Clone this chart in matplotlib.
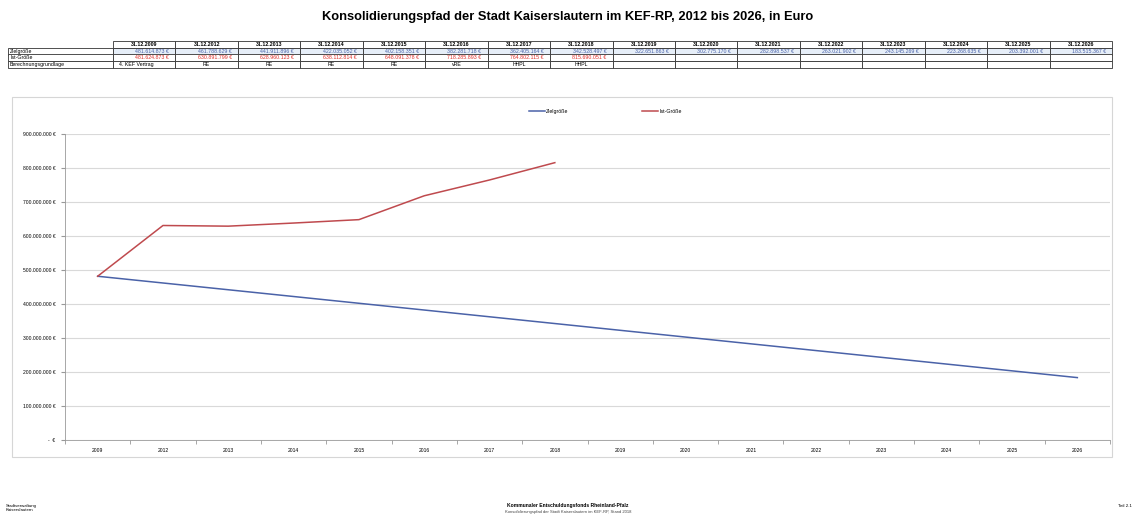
import matplotlib.pyplot as plt
from matplotlib.patches import Rectangle
import numpy as np

plt.rcParams['font.family'] = ['Liberation Sans', 'DejaVu Sans']

#data
years = ["2009", "2012", "2013", "2014", "2015", "2016", "2017", "2018",
         "2019", "2020", "2021", "2022", "2023", "2024", "2025", "2026"]
dates = ["31.12." + y for y in years]

ziel = [481614873, 461788629, 441911896, 422035052, 402158351, 382281718,
        362405164, 342528497, 322651863, 302775170, 282898537, 263021902,
        243145269, 223268635, 203392001, 183515367]
ist = [481624873, 630891799, 628960123, 638112814, 648091378, 718285893,
       764802115, 815690051]
grundlage = ["4. KEF Vertrag", "RE", "RE", "RE", "RE", "vRE", "HHPL", "HHPL"]

row_labels = ["Zielgröße", "Ist-Größe", "Berechnungsgrundlage"]

blue = "#4a62a8"
red = "#bf4a4e"


def euro(v):
    if v == 0:
        return "-  €"
    return f"{v:,.0f} €".replace(",", ".")


W, H = 1136, 527
fig = plt.figure(figsize=(W / 100, H / 100), dpi=100)

fig.text(0.5, 1 - 17 / H, "Konsolidierungspfad der Stadt Kaiserslautern im KEF-RP, 2012 bis 2026, in Euro",
         ha="center", va="center", fontsize=9.3, fontweight="bold")

#table above the chart
ax_t = fig.add_axes([8 / W, 1 - 68 / H, (1112 - 8) / W, 27 / H])
ax_t.axis("off")
n = len(years)
cell_text = [[""] + dates,
             [row_labels[0]] + [euro(v) for v in ziel],
             [row_labels[1]] + [euro(v) for v in ist] + [""] * (n - len(ist)),
             [row_labels[2]] + grundlage + [""] * (n - len(grundlage))]
col_w = [105] + [62.4] * n
tbl = ax_t.table(cellText=cell_text, colWidths=col_w, bbox=[0, 0, 1, 1], cellLoc="center")
tbl.auto_set_font_size(False)
for (r, c), cell in tbl.get_celld().items():
    cell.set_linewidth(0.6)
    cell.set_edgecolor("#333333")
    txt = cell.get_text()
    txt.set_fontsize(3.8)
    if c == 0:
        txt.set_ha("left")
        cell.PAD = 0.02
    if r == 0:
        txt.set_fontweight("bold")
        if c == 0:
            cell.set_edgecolor("white")
    elif r == 1 and c > 0:
        txt.set_color(blue)
        txt.set_ha("right")
        cell.set_facecolor("#e6eef8")
    elif r == 2 and c > 0:
        txt.set_color("#e0302a")
        txt.set_ha("right")
    elif r == 3 and c == 1:
        txt.set_ha("left")

#chart area frame
fig.patches.append(Rectangle((12 / W, 1 - 457 / H), 1100 / W, 360 / H, transform=fig.transFigure,
                             fill=False, edgecolor="#d6d6d6", linewidth=0.8))

ax = fig.add_axes([65 / W, 1 - 440 / H, 1045 / W, 306 / H])
x = np.arange(n)
ax.plot(x, ziel, color=blue, linewidth=1.1, label="Zielgröße")
ax.plot(x[:len(ist)], ist, color=red, linewidth=1.1, label="Ist-Größe")

ax.set_xlim(-0.5, n - 0.5)
ax.set_ylim(0, 900000000)
ax.set_yticks(np.arange(0, 900000001, 100000000))
ax.set_yticklabels([euro(v) for v in range(0, 900000001, 100000000)], fontsize=3.6)
ax.set_xticks(x)
ax.set_xticklabels(years, fontsize=3.6)
ax.set_xticks(np.arange(-0.5, n, 1), minor=True)
ax.tick_params(axis="x", which="major", length=0, pad=6)
ax.tick_params(axis="x", which="minor", length=3, color="#999999")
ax.tick_params(axis="y", length=3, color="#999999", pad=4)
ax.grid(axis="y", color="#d9d9d9", linewidth=0.8)
ax.set_axisbelow(True)
for s in ["top", "right"]:
    ax.spines[s].set_visible(False)
ax.spines["left"].set_color("#999999")
ax.spines["bottom"].set_color("#999999")
ax.spines["left"].set_linewidth(0.6)
ax.spines["bottom"].set_linewidth(0.6)

fig.legend(loc="center", bbox_to_anchor=(0.533, 1 - 111 / H), ncol=2, frameon=False,
           fontsize=3.8, handlelength=3, columnspacing=14, handletextpad=0.2)

#footer
fig.text(6 / W, 1 - 508 / H, "Stadtverwaltung\nKaiserslautern", fontsize=3.2, va="center", linespacing=1.3)
fig.text(0.5, 1 - 505 / H, "Kommunaler Entschuldungsfonds Rheinland-Pfalz", fontsize=3.6,
         fontweight="bold", ha="center", va="center")
fig.text(0.5, 1 - 512 / H, "Konsolidierungspfad der Stadt Kaiserslautern im KEF-RP, Stand 2018",
         fontsize=3.0, ha="center", va="center", color="#444444")
fig.text(1 - 4 / W, 1 - 506 / H, "Teil 2.1", fontsize=3.2, ha="right", va="center")

fig.savefig("out.png", dpi=100, facecolor="white")
